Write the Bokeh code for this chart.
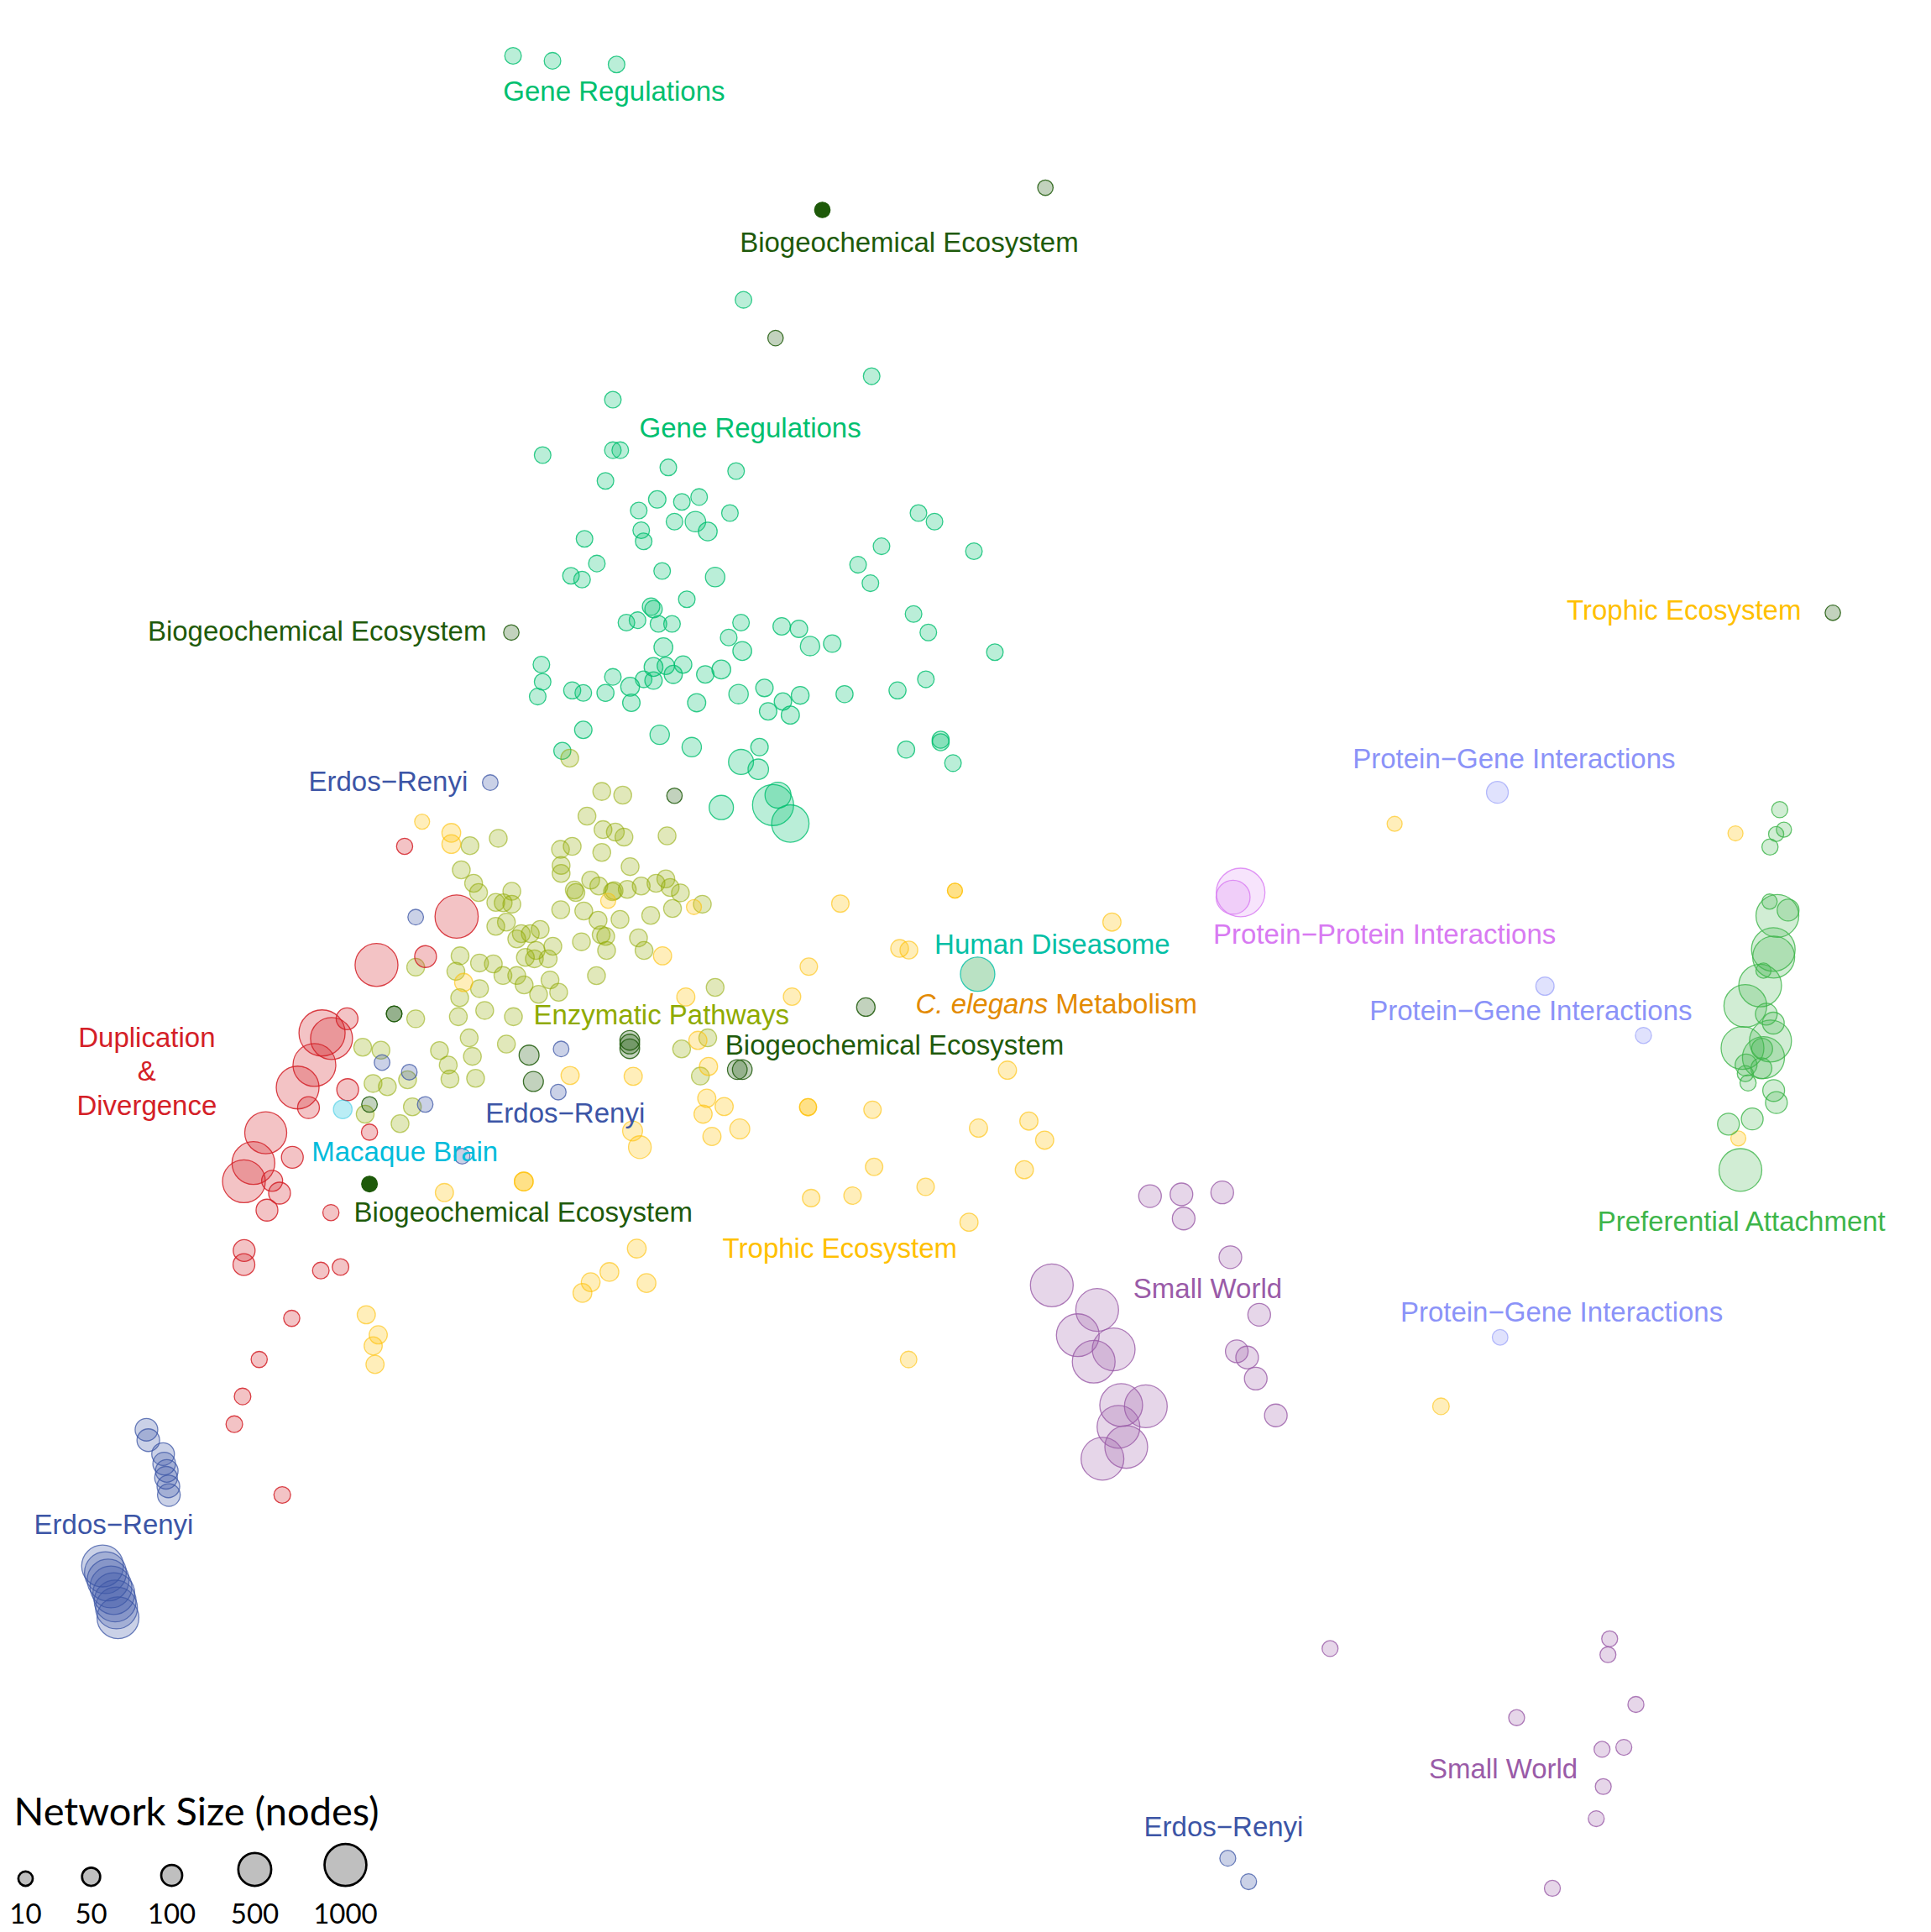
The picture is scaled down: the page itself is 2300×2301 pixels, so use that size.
import math
from bokeh.plotting import figure
from bokeh.models import ColumnDataSource, Range1d
from bokeh.core.properties import value
from bokeh.embed import file_html
from bokeh.resources import INLINE

# ---------------- data: embedding coordinates (dim1, dim2) and network size (nodes) ----------------
gene = [(416,45,30),(448,49,30),(500,52,30),(603,243,30),(707,305,30),
 (497,324,30),(440,369,30),(497,365,30),(503,365,30),(542,379,30),(597,382,30),(491,390,30),
 (533,405,40),(553,407,30),(567,403,30),(592,416,30),(518,414,30),(520,430,30),(522,439,30),
 (547,423,30),(564,423,90),(574,431,60),
 (474,437,30),(484,457,30),(463,467,30),(472,470,30),(537,463,30),(580,468,70),
 (745,416,30),(758,423,30),(715,443,30),(790,447,30),(696,458,30),(706,473,30),
 (557,486,30),(528,492,40),(530,494,40),(508,505,30),(517,503,30),(534,506,30),(545,506,30),
 (601,505,30),(591,517,30),(602,528,60),(634,508,40),(648,510,40),(657,524,70),(675,522,40),
 (741,498,30),(753,513,30),(807,529,30),(538,525,60),
 (439,539,30),(440,553,30),(436,565,30),(464,560,35),(473,562,30),(491,562,35),(497,549,30),
 (511,557,60),(512,570,40),(522,551,30),(530,552,40),(530,541,60),(540,540,40),(546,547,50),(554,539,40),
 (572,547,40),(585,543,60),(565,570,50),(599,563,70),(620,558,40),(635,569,40),(623,577,40),(641,580,50),(649,564,45),
 (685,563,35),(728,560,35),(751,551,30),
 (473,592,40),(535,596,70),(561,606,70),(456,609,35),
 (735,608,35),(763,600,35),(763,602,35),(773,619,30),
 (601,618,200),(615,624,90),(616,606,40),(585,655,180),(627,653,950),(631,645,230),(641,668,730)]

enzymatic = [(488,642),(505,645),(476,662),(489,673),(499,675),(506,679),(541,678),(404,680),(381,686),
 (454.5,689),(464,686.5),(488,691.5),(455,702),(455,708.5),(511,703),(374,705.6),(384,716.5),(388,724),
 (415,723),(402,732),(408,732.4),(415,733.5),(465.7,722),(467,724),(479,714),(485.6,718.7),(496.7,723.3),
 (498,722.5),(508.7,721.5),(520,718.7),(532,716.5),(540,713),(543.5,720),(551.8,724.3),(569.6,733.5),
 (454.7,738),(473.4,739),(485,746.5),(502.8,745.8),(527.7,742.6),(545.4,737),(487.5,758.3),(491.2,759.6),
 (491.9,771),(517.8,760.8),(522.3,771),(471.5,764),(483.7,791.5),(402,751.5),(410.6,748),(422.7,757.4),
 (430,757.4),(438,754),(419,761.7),(448.3,767.6),(434.7,771),(426,776.7),(433.3,777.8),(444.5,777.8),
 (373,775.4),(369.6,788),(388.8,781.2),(400,782),(407.8,791.4),(419,791.4),(425,799),(436.7,806.7),
 (446,795),(453,805),(388.8,802),(372.7,809.4),(393,819.7),(371.6,824.8),(416.3,824.8),(337,826.5),
 (337,784.6),(380.4,842),(410.6,847),(356.3,852.3),(383,857),(363.4,864),(364.8,875.4),(385.6,874.8),
 (294,849.6),(308.8,852),(302.4,879),(314,881.6),(330.4,876),(334.3,898),(324.3,911.6),(296,903.9),
 (580,801),(552.8,851),(574,842),(568,873),(462,615)]
enzymatic_nodes = 45

trophic = [(342.2,666.5,15),(493.2,730.8,15),(562.8,735.8,15),(1131.4,668.3,15),(1408,676,15),(1410.3,923.6,15),
 (774.6,722.5,15),(774.6,722.5,15),
 (365.9,675.6,60),(365.9,684.7,60),(537.3,775.4,50),(556.2,808.8,50),(375.9,797,50),(566,844,50),
 (462.3,872.5,50),(513.5,873.2,50),(574.6,865.2,50),(573.2,891,50),(587.3,897.7,50),(570.2,903.9,50),
 (513,917.5,80),(518.9,930.7,140),(577.4,922,50),(600,915.9,80),(424.7,958.6,60),(424.7,958.6,60),
 (360.3,967.5,50),(681.6,733,40),(729.7,769.4,45),(737.2,770.7,45),(656,784.2,40),(642.4,808.5,40),
 (817.2,868.2,50),(655.4,898.2,35),(655.4,898.2,35),(707.7,900.3,40),(793.7,915.2,50),(834.6,909.5,50),
 (847.4,925,50),(830.9,949,50),(709,946.7,40),(750.8,962.9,40),(657.9,972,40),(691.5,970,40),
 (786,991.6,50),(516.4,1013,60),(494.2,1032,60),(479,1040.3,60),(472.3,1049,60),(524.3,1041,60),
 (296.9,1066.7,50),(306.6,1083,50),(302.5,1092,50),(304,1107,50),(737,1103,30),(1169,1141,30),(902,748,50)]

duplication = [(370.2,743.5,1090),(305.2,782.8,1070),(345,776,118),(261,838,1300),(268.7,842.5,1008),
 (281.3,826.5,118),(254.8,864,1063),(241.2,882.3,1063),(250,898.6,118),(281.8,884,118),(299.5,918.5,25),
 (215.3,919,1008),(205.3,943.6,1063),(197.6,958.4,1063),(236.9,938.9,118),(220.5,958,100),(226.5,968,118),
 (216.3,981.8,118),(268.2,983.8,25),(197.8,1014.6,118),(197.6,1026,118),(260,1030.8,30),(276,1028,30),
 (236.4,1069.6,25),(196.5,1133,30),(189.8,1155.5,30),(228.7,1213,30),(328,686.5,25),(210,1103,25)]

erdos = [(397.5,634.8,20),(337,744,20),(455,851,20),(452.7,886,20),(309.7,862,20),(331.8,869.8,20),
 (344.7,896,20),(374.7,938,20),
 (118.5,1160,138),(120,1168.5,138),(132,1179.8,138),(132.9,1187.5,138),(135,1193.4,138),(134.4,1199,138),
 (136.3,1206,138),(136.7,1213,138),
 (82.9,1270.6,1000),(85.2,1276,1000),(87.4,1282,1000),(89.7,1287.6,1000),(92,1293,1000),(93.1,1299,1000),
 (94.2,1304.6,1000),(95.4,1312.6,1000),
 (996,1507.8,23),(1012.9,1526.8,23)]

biogeo = [(848,152,18),(629,274,18),(414.6,513,18),(547,645.5,18),(702.3,817,55),(510.7,844,75),
 (510.7,850.8,75),(510.7,847,75),(598,867.7,75),(602,867.7,75),(429,856,80),(432.5,877.4,80),
 (319.5,822.5,20),(319.5,822.5,20),(299.5,896,20),(1487,497,18)]
biogeo_solid = [(667,170,18),(299.5,960.6,20)]

macaque = [(277.8,900,60)]
diseasome = [(793,790.3,572)]
ppi = [(1006.4,724,1497),(1000.3,727.8,550)]
pgi = [(1214.8,642.7,118),(1253.4,800,52),(1333.3,840,25),(1217,1085,20)]

preferential = [(1443.9,656.8,25),(1447.3,673,16),(1441,676.6,16),(1436,687,25),(1435.7,731.4,16),
 (1442,743,1063),(1450.7,738.3,118),(1438.7,770.3,1120),(1439,776.4,1008),(1430.7,787.4,16),
 (1428,799.5,1063),(1416,816,1063),(1433,822.7,118),(1438.7,830,118),(1436.4,844.5,1008),
 (1413.7,850.2,1063),(1430.7,858,1008),(1429.6,850.8,100),(1429,866.7,100),(1416.6,864,118),
 (1418.2,878.6,25),(1416,871,25),(1439,884.7,118),(1441.2,894.5,118),(1421.6,907.8,118),
 (1402.3,912,118),(1412,949.2,1063)]

smallworld = [(932.9,970.4,138),(958.4,969,138),(960.2,988.6,138),(991.5,967.4,138),(998.1,1020,138),
 (1021.5,1066.7,138),(1003.3,1096.4,138),(1011.7,1101.4,138),(1018.7,1118.5,138),(1035,1148.4,138),
 (853.2,1042.8,1063),(890,1062.8,1063),(874.3,1083.3,1063),(903.4,1094.8,1063),(887.2,1104.8,1063),
 (909.5,1140,1063),(929.5,1141,1063),(907.3,1157.7,1063),(913.6,1174,1063),(894.3,1183.6,1063),
 (1079,1337.6,23),(1305.9,1329.7,23),(1304.5,1342.6,23),(1327.2,1383,23),(1230.4,1393.7,23),
 (1299.7,1419.4,23),(1317.4,1417.8,23),(1300.7,1449.6,23),(1295,1475.7,23),(1259.4,1532.2,23)]

# category labels: text, left x, baseline y, category
labels = [
 ("Gene Regulations", 408, 81.5, "gene"),
 ("Biogeochemical Ecosystem", 600, 204.4, "biogeo"),
 ("Gene Regulations", 518.5, 355, "gene"),
 ("Biogeochemical Ecosystem", 119.5, 520, "biogeo"),
 ("Trophic Ecosystem", 1271, 503, "trophic"),
 ("Protein\u2212Gene Interactions", 1097.4, 623.5, "pgi"),
 ("Erdos\u2212Renyi", 250, 642, "erdos"),
 ("Human Diseasome", 758, 774, "diseasome"),
 ("Protein\u2212Protein Interactions", 984.2, 765.8, "ppi"),
 ("Protein\u2212Gene Interactions", 1111, 827.8, "pgi"),
 ("Enzymatic Pathways", 432.6, 831.2, "enzymatic"),
 ("Biogeochemical Ecosystem", 588.2, 855.5, "biogeo"),
 ("Erdos\u2212Renyi", 393.7, 910.7, "erdos"),
 ("Macaque Brain", 252.6, 942, "macaque"),
 ("Biogeochemical Ecosystem", 286.9, 991.3, "biogeo"),
 ("Preferential Attachment", 1296, 998.6, "preferential"),
 ("Trophic Ecosystem", 586, 1020.3, "trophic"),
 ("Small World", 919.3, 1053, "smallworld"),
 ("Protein\u2212Gene Interactions", 1136, 1072.5, "pgi"),
 ("Erdos\u2212Renyi", 27.3, 1244.5, "erdos"),
 ("Small World", 1159.2, 1443.3, "smallworld"),
 ("Erdos\u2212Renyi", 928, 1490.4, "erdos"),
]
dup_lines = ["Duplication", "&", "Divergence"]
dup_x = 118.8
dup_y = [849.7, 877, 904.8]

legend_nodes = [10, 50, 100, 500, 1000]
legend_labels = ["10", "50", "100", "500", "1000"]

# ---------------- styling ----------------
colors = {
 "gene": "#00BF6F", "biogeo": "#1E5A0A", "enzymatic": "#8FAA00", "trophic": "#FFC000",
 "duplication": "#D42027", "erdos": "#3C55A6", "macaque": "#00BCDB", "diseasome": "#00BFA5",
 "celegans": "#E38A00", "ppi": "#D87AF2", "pgi": "#8B93F8", "preferential": "#3DB54A",
 "smallworld": "#9A5BA8",
}
TEXT_DY = -8  # baseline correction for text placement

def diam(n):
    return 13.5 + 1.15 * math.sqrt(n)

W, H = 2300, 2301
KX = W / 1567
KY = H / 1568
p = figure(width=W, height=H, output_backend="svg", toolbar_location=None,
           x_range=Range1d(0, W / KX), y_range=Range1d(H / KY, 0),
           x_axis_type=None, y_axis_type=None, min_border=0)
p.grid.visible = False
p.outline_line_color = None
p.background_fill_color = "white"

def draw(points, color, fill=None, fill_alpha=0.27, line_alpha=0.8, default_n=None):
    xs = [pt[0] for pt in points]
    ys = [pt[1] for pt in points]
    ns = [default_n] * len(points) if default_n is not None else [pt[2] for pt in points]
    src = ColumnDataSource(dict(x=xs, y=ys, s=[diam(n) for n in ns]))
    p.scatter("x", "y", size="s", source=src, marker="circle",
              fill_color=fill or color, fill_alpha=fill_alpha,
              line_color=color, line_alpha=line_alpha, line_width=1.3)

draw(gene, colors["gene"])
draw(enzymatic, colors["enzymatic"], default_n=enzymatic_nodes, line_alpha=0.55)
draw(trophic, colors["trophic"], line_alpha=0.6)
draw(duplication, colors["duplication"], line_alpha=0.85)
draw(erdos, colors["erdos"], line_alpha=0.75)
draw(biogeo, colors["biogeo"], line_alpha=0.85)
draw(biogeo_solid, colors["biogeo"], fill_alpha=1.0, line_alpha=1.0)
draw(macaque, colors["macaque"], fill_alpha=0.27, line_alpha=0.4)
draw(diseasome, colors["diseasome"], fill="#8CCF9C", fill_alpha=0.6, line_alpha=0.8)
draw(ppi, colors["ppi"], fill_alpha=0.2, line_alpha=0.8)
draw(pgi, colors["pgi"], fill_alpha=0.27, line_alpha=0.6)
draw(preferential, colors["preferential"], fill_alpha=0.24, line_alpha=0.8)
draw(smallworld, colors["smallworld"], fill_alpha=0.25, line_alpha=0.8)

FONT = value("Liberation Sans")
for cat in colors:
    sel = [l for l in labels if l[3] == cat]
    if not sel:
        continue
    p.text(x=[l[1] for l in sel], y=[l[2] + TEXT_DY for l in sel], text=[l[0] for l in sel],
           text_font=FONT, text_font_size="33px", text_color=colors[cat],
           text_align="left", text_baseline="alphabetic")

p.text(x=[dup_x] * 3, y=[v + TEXT_DY for v in dup_y], text=dup_lines, text_font=FONT, text_font_size="33px",
       text_color=colors["duplication"], text_align="center", text_baseline="alphabetic")

# C. elegans Metabolism (italic species name)
p.text(x=[742.6], y=[822 + TEXT_DY], text=["C. elegans"], text_font=FONT, text_font_size="33px",
       text_font_style="italic", text_color=colors["celegans"], text_align="left", text_baseline="alphabetic")
p.text(x=[856.3], y=[822 + TEXT_DY], text=["Metabolism"], text_font=FONT, text_font_size="33px",
       text_color=colors["celegans"], text_align="left", text_baseline="alphabetic")

# size legend
leg_x = [20.4, 73.6, 139, 206.4, 280]
leg_bottom = 1530.2
leg_y = [leg_bottom - diam(n) / 2 / KY for n in legend_nodes]
lsrc = ColumnDataSource(dict(x=leg_x, y=leg_y, s=[diam(n) for n in legend_nodes]))
p.scatter("x", "y", size="s", source=lsrc, marker="circle", fill_color="#BFBFBF",
          line_color="black", line_width=2.7)
p.text(x=leg_x, y=[1560.5 + TEXT_DY] * 5, text=legend_labels, text_font=value("Lato"), text_font_size="33px",
       text_color="black", text_align="center", text_baseline="alphabetic")
p.text(x=[10.9], y=[1476.7 + TEXT_DY], text=["Network Size (nodes)"], text_font=value("Lato"),
       text_font_size="47px", text_color="black", text_align="left", text_baseline="alphabetic")

open("out.html", "w").write(file_html(p, INLINE))
